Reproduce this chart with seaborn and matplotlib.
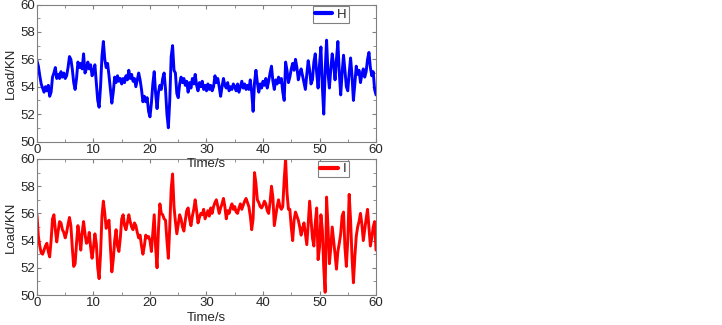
import numpy as np
import pandas as pd
import matplotlib
matplotlib.use("Agg")
import matplotlib.pyplot as plt
import seaborn as sns

# sampling grid: 0 to 60 s, every 0.25 s
time_s = np.arange(0, 60.01, 0.25)

# load readings for H (blue), 5 s per row
load_h = [
    55.9, 55.5, 54.8, 54.2, 53.9, 53.6, 54.0, 53.7, 54.1, 53.3, 53.6, 54.7, 55.0, 55.4, 54.6, 54.9, 54.6, 55.1, 54.7, 55.0,
    54.6, 54.8, 55.4, 56.2, 56.0, 55.3, 54.3, 53.8, 54.6, 55.8, 55.4, 55.7, 55.3, 56.4, 55.0, 55.3, 55.8, 55.3, 55.6, 54.8,
    55.1, 55.6, 54.3, 53.0, 52.5, 54.0, 56.2, 57.3, 56.0, 55.4, 55.7, 54.8, 53.8, 52.8, 53.6, 54.7, 54.3, 54.8, 54.4, 54.6,
    54.2, 54.6, 54.3, 54.8, 54.5, 55.2, 54.6, 54.9, 54.4, 54.6, 54.0, 54.5, 55.0, 54.5, 53.8, 52.9, 53.3, 52.9, 53.2, 52.2,
    51.8, 52.8, 54.2, 55.1, 53.5, 52.4, 53.6, 54.1, 53.8, 54.6, 55.0, 53.8, 52.0, 51.0, 53.0, 56.2, 57.0, 55.2, 55.0, 53.5,
    53.2, 54.2, 54.7, 54.3, 54.6, 54.1, 54.4, 53.6, 54.3, 53.9, 54.6, 54.2, 54.9, 54.1, 53.7, 54.3, 54.0, 54.4, 53.8, 54.1,
    53.7, 54.2, 53.8, 54.1, 53.7, 54.0, 54.8, 54.3, 54.6, 54.0, 53.3, 54.0, 54.6, 54.1, 53.9, 54.3, 53.7, 54.0, 53.8, 54.2,
    54.0, 53.7, 54.2, 53.6, 54.0, 54.4, 53.9, 54.2, 53.8, 54.1, 53.8, 54.5, 53.6, 52.2, 54.3, 55.2, 54.3, 53.6, 54.2, 53.9,
    54.4, 54.1, 54.6, 53.9, 54.4, 55.0, 55.5, 54.4, 53.8, 54.5, 54.2, 54.7, 54.3, 54.6, 53.6, 53.0, 55.8, 55.2, 54.3, 54.7,
    55.3, 55.7, 55.2, 56.0, 55.4, 54.5, 55.0, 55.3, 54.8, 54.3, 53.8, 54.9, 55.9, 55.2, 54.2, 54.5, 55.8, 56.4, 55.0, 53.9,
    55.6, 56.9, 54.0, 52.0, 55.2, 57.4, 55.0, 53.9, 55.3, 56.4, 55.6, 54.5, 56.0, 57.3, 55.0, 53.4, 55.0, 56.3, 55.2, 54.0,
    53.7, 55.0, 56.1, 54.8, 53.0, 54.2, 55.5, 54.9, 55.2, 54.3, 54.9, 55.3, 54.7, 55.1, 56.0, 56.5, 55.4, 54.8, 55.1, 53.8,
    53.4,
]

# load readings for I (red)
load_i = [
    55.9, 54.3, 53.6, 53.1, 53.0, 53.3, 53.6, 53.8, 53.2, 52.8, 54.0, 55.6, 55.9, 54.8, 53.9, 54.7, 55.4, 55.3, 54.8, 54.6,
    54.2, 54.6, 55.2, 55.7, 55.1, 53.5, 52.1, 52.3, 53.8, 55.1, 54.3, 53.3, 54.6, 55.4, 54.5, 53.8, 53.9, 54.6, 53.5, 52.7,
    53.5, 54.5, 53.8, 52.0, 51.2, 53.0, 55.8, 56.9, 56.0, 54.9, 55.3, 55.5, 53.5, 51.7, 52.6, 54.0, 54.8, 53.6, 53.2, 54.2,
    55.6, 55.9, 55.1, 54.8, 55.3, 55.9, 55.4, 55.0, 54.8, 55.3, 55.1, 54.6, 54.2, 54.4, 53.6, 53.0, 53.6, 54.4, 54.2, 54.3,
    54.0, 53.2, 54.6, 55.9, 53.5, 52.0, 54.8, 56.7, 56.0, 55.9, 55.6, 55.5, 54.0, 52.7, 55.0, 57.8, 58.9, 56.5, 55.4, 54.5,
    55.2, 55.9, 55.6, 55.0, 54.7, 55.5, 56.2, 56.4, 55.6, 55.1, 55.8, 56.3, 57.0, 56.2, 55.3, 55.7, 56.0, 55.9, 56.3, 55.6,
    55.9, 56.2, 55.8, 56.4, 56.0, 56.5, 56.8, 57.0, 56.5, 56.0, 56.4, 56.7, 57.1, 56.5, 55.6, 56.2, 56.0, 56.4, 56.7, 56.3,
    56.5, 56.1, 56.0, 56.4, 56.7, 56.3, 56.6, 56.9, 57.1, 56.8, 56.5, 55.8, 54.8, 55.6, 59.0, 58.2, 57.0, 56.8, 56.5, 56.4,
    56.6, 56.9, 56.7, 56.2, 56.0, 56.8, 58.0, 57.2, 55.1, 55.8, 56.5, 57.0, 56.5, 56.3, 56.5, 58.5, 60.0, 57.5, 56.3, 56.3,
    55.0, 54.0, 55.5, 56.1, 55.8, 55.5, 55.0, 54.4, 54.9, 55.3, 54.5, 53.7, 55.2, 56.9, 55.5, 54.2, 53.6, 55.3, 56.4, 52.6,
    53.5, 55.9, 54.8, 52.0, 50.2, 57.2, 55.0, 52.3, 53.5, 55.0, 54.0, 53.0, 51.9, 53.2, 53.8, 54.5, 55.8, 56.1, 53.5, 52.1,
    54.0, 57.4, 55.5, 52.8, 50.9, 52.8, 54.3, 55.0, 55.4, 56.0, 55.2, 54.0, 54.8, 55.6, 56.3, 55.0, 53.6, 54.2, 55.0, 55.4,
    53.3,
]

series_names = ["H", "I"]
series_colors = ["#0000ff", "#ff0000"]

x_ticks = [0, 10, 20, 30, 40, 50, 60]
y_ticks = [50, 52, 54, 56, 58, 60]

df = pd.DataFrame({"Time": time_s, "H": load_h, "I": load_i})

sns.set_style("ticks")
plt.rcParams["font.family"] = ["Liberation Sans", "DejaVu Sans"]

fig = plt.figure(figsize=(7.22, 3.25), dpi=100)
ax_top = fig.add_axes([0.0512, 0.5646, 0.4696, 0.4215])
ax_bot = fig.add_axes([0.0512, 0.0923, 0.4696, 0.4185])
# let the top plot's x label show through the lower plot
ax_bot.patch.set_alpha(0)
ax_top.set_zorder(3)
ax_top.patch.set_alpha(0)

for ax, name, col in zip([ax_top, ax_bot], series_names, series_colors):
    sns.lineplot(data=df, x="Time", y=name, ax=ax, color=col, linewidth=2.1, label=name)
    ax.set_xlim(0, 60)
    ax.set_ylim(50, 60)
    ax.set_xticks(x_ticks)
    ax.set_yticks(y_ticks)
    ax.set_xticks(range(5, 60, 10), minor=True)
    ax.set_yticks(range(51, 60, 2), minor=True)
    ax.tick_params(which="both", direction="in", top=True, right=True,
                   color="#808080", labelsize=9.5, pad=1.5)
    ax.tick_params(which="major", length=3)
    ax.tick_params(which="minor", length=2)
    for sp in ax.spines.values():
        sp.set_color("#808080")
        sp.set_linewidth(0.8)
    ax.set_xlabel("Time/s", fontsize=9.5, labelpad=2)
    ax.set_ylabel("Load/KN", fontsize=9.5, labelpad=2)
    leg = ax.legend(loc="upper right", bbox_to_anchor=(0.925, 1.0), fontsize=9.5,
                    handlelength=1.3, handletextpad=0.4, borderpad=0.15,
                    fancybox=False, framealpha=1, borderaxespad=0.15)
    leg.get_frame().set_edgecolor("#808080")
    leg.get_frame().set_linewidth(0.8)
    for line in leg.get_lines():
        line.set_linewidth(3)

fig.savefig("out.png", dpi=100)
